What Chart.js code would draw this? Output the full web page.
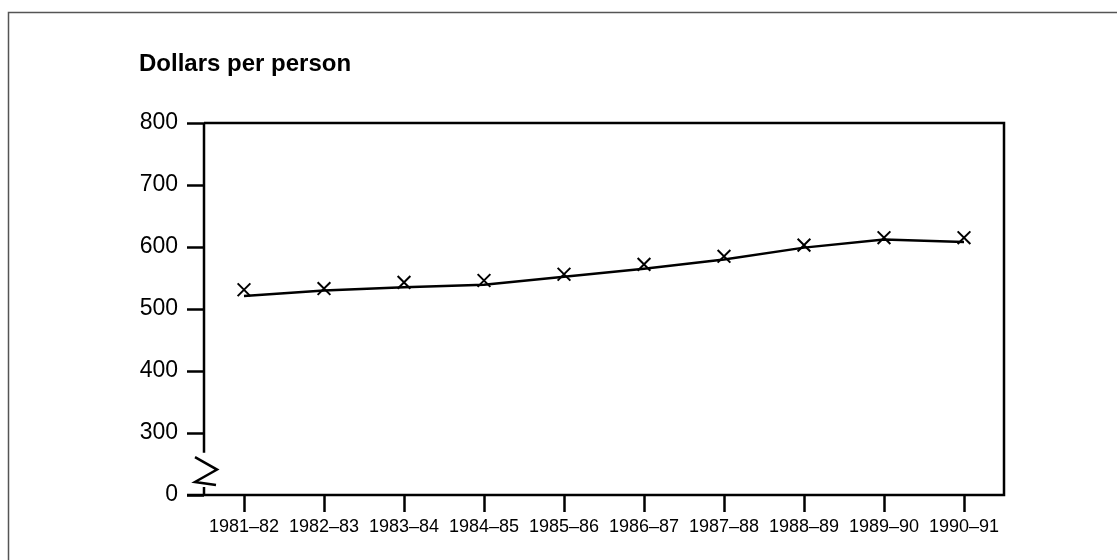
<!DOCTYPE html>
<html>
<head>
<meta charset="utf-8">
<script src="https://cdn.jsdelivr.net/npm/chart.js"></script>
<style>
  html, body { margin: 0; padding: 0; background: #fff; }
  #wrap { width: 1117px; height: 560px; position: relative; }
</style>
</head>
<body>
<div id="wrap"><canvas id="spendChart" width="1117" height="560"></canvas></div>
<script>
var years = ['1981–82', '1982–83', '1983–84', '1984–85', '1985–86',
             '1986–87', '1987–88', '1988–89', '1989–90', '1990–91'];
// solid line series
var lineValues = [521, 530, 535, 539, 552, 565, 580, 599, 612, 608];
// series drawn as crosses only
var crossValues = [531, 533, 543, 546, 556, 572, 585, 603, 615, 615];
var yTicks = [200, 300, 400, 500, 600, 700, 800];
var breakLabel = '0'; // the bottom tick stands for zero, the axis is broken above it

var FONT = '"Liberation Sans", Arial, sans-serif';

// outer frame, plot box, broken y axis and heading
var framePlugin = {
    id: 'frame',
    beforeDraw: function (chart) {
        var ctx = chart.ctx;
        ctx.save();
        ctx.strokeStyle = '#555';
        ctx.lineWidth = 1.5;
        ctx.beginPath();
        ctx.moveTo(8.5, 560);
        ctx.lineTo(8.5, 12.5);
        ctx.lineTo(1117, 12.5);
        ctx.stroke();
        ctx.restore();
    },
    afterDraw: function (chart) {
        var ctx = chart.ctx;
        var a = chart.chartArea;
        var y = chart.scales.y;
        ctx.save();
        ctx.strokeStyle = '#000';
        ctx.lineWidth = 2.5;
        ctx.lineCap = 'butt';
        // top, right and bottom sides
        ctx.beginPath();
        ctx.moveTo(a.left, a.top);
        ctx.lineTo(a.right, a.top);
        ctx.lineTo(a.right, a.bottom);
        ctx.lineTo(a.left - 17, a.bottom);
        ctx.stroke();
        // left side with a break
        ctx.beginPath();
        ctx.moveTo(a.left, a.top);
        ctx.lineTo(a.left, y.getPixelForValue(268));
        ctx.moveTo(a.left, y.getPixelForValue(213));
        ctx.lineTo(a.left, a.bottom);
        ctx.stroke();
        ctx.beginPath();
        ctx.moveTo(a.left - 9, y.getPixelForValue(261));
        ctx.lineTo(a.left + 13, y.getPixelForValue(241));
        ctx.lineTo(a.left - 9, y.getPixelForValue(221));
        ctx.lineTo(a.left + 12, y.getPixelForValue(216));
        ctx.stroke();
        // heading
        ctx.fillStyle = '#000';
        ctx.font = 'bold 24px ' + FONT;
        ctx.textBaseline = 'alphabetic';
        ctx.textAlign = 'left';
        ctx.fillText('Dollars per person', 139, 71);
        ctx.restore();
    }
};

var ctx = document.getElementById('spendChart').getContext('2d');
var spendChart = new Chart(ctx, {
    type: 'line',
    data: {
        labels: years,
        datasets: [{
            data: lineValues,
            borderColor: '#000',
            borderWidth: 2.5,
            pointRadius: 0,
            tension: 0,
            fill: false
        }, {
            data: crossValues,
            showLine: false,
            pointStyle: 'crossRot',
            pointRadius: 9,
            pointBorderWidth: 2,
            pointBorderColor: '#000',
            pointBackgroundColor: '#000'
        }]
    },
    options: {
        responsive: false,
        animation: false,
        layout: { padding: { left: 0, top: 123, right: 113, bottom: 0 } },
        plugins: {
            legend: { display: false },
            tooltip: { enabled: false },
            title: { display: false }
        },
        scales: {
            x: {
                offset: true,
                border: { display: false },
                grid: {
                    drawOnChartArea: false,
                    drawTicks: true,
                    tickLength: 17,
                    tickWidth: 2.5,
                    tickColor: '#000'
                },
                ticks: {
                    color: '#000',
                    font: { family: FONT, size: 18 },
                    padding: 4,
                    maxRotation: 0,
                    autoSkip: false
                },
                afterFit: function (s) { s.height = 65; }
            },
            y: {
                min: 200,
                max: 800,
                border: { display: false },
                grid: {
                    drawOnChartArea: false,
                    drawTicks: true,
                    tickLength: 17,
                    tickWidth: 2.5,
                    tickColor: '#000'
                },
                afterBuildTicks: function (s) {
                    s.ticks = yTicks.map(function (v) { return { value: v }; });
                },
                ticks: {
                    color: '#000',
                    font: { family: FONT, size: 23 },
                    padding: 9,
                    callback: function (v) { return v === 200 ? breakLabel : String(v); }
                },
                afterFit: function (s) { s.width = 204; }
            }
        }
    },
    plugins: [framePlugin]
});
</script>
</body>
</html>
